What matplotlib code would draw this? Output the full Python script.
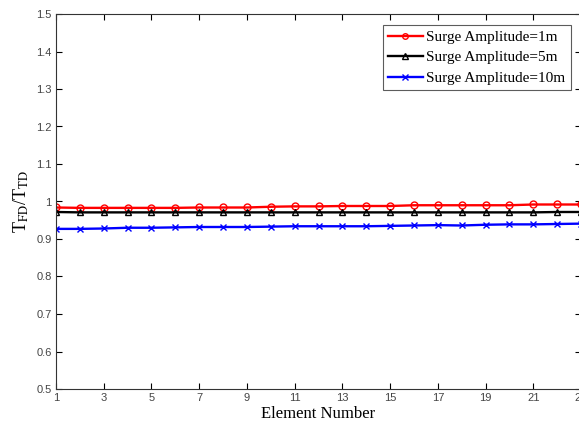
import numpy as np
import matplotlib
matplotlib.use('Agg')
import matplotlib.pyplot as plt

plt.rcParams['mathtext.fontset'] = 'stix'

elements = np.arange(1, 24)
ratio_1m = [0.984, 0.983, 0.983, 0.983, 0.983, 0.983, 0.984, 0.984, 0.984, 0.986,
            0.987, 0.987, 0.988, 0.988, 0.988, 0.990, 0.990, 0.990, 0.990, 0.990,
            0.992, 0.992, 0.992]
ratio_5m = [0.972, 0.971, 0.971, 0.971, 0.971, 0.971, 0.971, 0.971, 0.971, 0.971,
            0.971, 0.971, 0.971, 0.971, 0.971, 0.971, 0.971, 0.971, 0.971, 0.971,
            0.971, 0.972, 0.972]
ratio_10m = [0.927, 0.927, 0.928, 0.930, 0.930, 0.931, 0.932, 0.932, 0.932, 0.933,
             0.934, 0.934, 0.934, 0.934, 0.935, 0.936, 0.937, 0.936, 0.938, 0.939,
             0.939, 0.940, 0.941]
labels = ["Surge Amplitude=1m", "Surge Amplitude=5m", "Surge Amplitude=10m"]

figure = plt.figure(figsize=(5.79, 4.23), dpi=100)
# the axes runs slightly past the right edge, as in the cropped original
axes = figure.add_axes([56/579, 34/423, 525/579, 375/423])

axes.plot(elements, ratio_1m, color='red', lw=1.7, marker='o', ms=5,
          mfc='none', mew=1.0, label=labels[0])
axes.plot(elements, ratio_5m, color='black', lw=1.7, marker='^', ms=5,
          mfc='none', mew=1.0, label=labels[1])
axes.plot(elements, ratio_10m, color='blue', lw=1.7, marker='x', ms=5,
          mew=1.0, label=labels[2])

axes.set_xlim(1, 23)
axes.set_ylim(0.5, 1.5)
axes.set_xticks(np.arange(1, 24, 2))
axes.set_yticks(np.round(np.arange(0.5, 1.51, 0.1), 1))
axes.set_yticklabels(['0.5', '0.6', '0.7', '0.8', '0.9', '1', '1.1', '1.2',
                      '1.3', '1.4', '1.5'])
axes.tick_params(direction='in', length=4, width=0.8, top=True, right=True,
                 labelsize=8, labelcolor='#444444', pad=3)
for lab in axes.get_xticklabels() + axes.get_yticklabels():
    lab.set_fontfamily('Liberation Sans')
for sp in axes.spines.values():
    sp.set_color('#333333')
    sp.set_linewidth(0.8)

axes.set_xlabel("Element Number", family='Liberation Serif', fontsize=12, labelpad=2)
axes.set_ylabel(r"T$_{\rm FD}$/T$_{\rm TD}$", family='Liberation Serif',
                fontsize=13, labelpad=4)

leg = axes.legend(loc='upper left', bbox_to_anchor=(0.622, 0.971),
                  prop={'family': 'Liberation Serif', 'size': 11},
                  frameon=True, fancybox=False, borderpad=0.35,
                  labelspacing=0.45, handlelength=2.3, handletextpad=0.2,
                  borderaxespad=0, markerscale=0.8)
leg.get_frame().set_edgecolor('#333333')
leg.get_frame().set_linewidth(0.8)

figure.savefig('out.png', dpi=100)
